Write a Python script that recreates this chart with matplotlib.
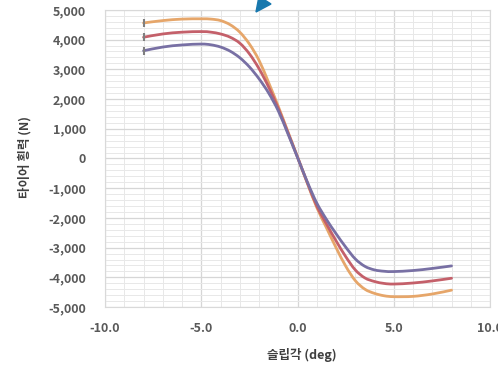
import matplotlib
matplotlib.use("Agg")
import matplotlib.pyplot as plt
from matplotlib.ticker import MultipleLocator, FuncFormatter
from matplotlib.patches import Polygon, PathPatch
from matplotlib.path import Path

plt.rcParams['font.family'] = ['Noto Sans CJK KR', 'DejaVu Sans']

slip = [-8, -7, -6, -5, -4.5, -4, -3.5, -3, -2.5, -2, -1.5, -1, -0.5, 0,
        0.5, 1, 1.5, 2, 2.5, 3, 3.5, 4, 4.5, 5, 6, 7, 8]
force_orange = [4560, 4640, 4690, 4700, 4690, 4640, 4500, 4250, 3850, 3300, 2550, 1750, 900, 50,
                -820, -1650, -2330, -3000, -3620, -4110, -4400, -4540, -4620, -4650, -4640, -4560, -4430]
force_red = [4080, 4190, 4250, 4270, 4250, 4190, 4080, 3880, 3520, 3020, 2400, 1680, 870, 40,
             -800, -1600, -2200, -2770, -3300, -3750, -4020, -4140, -4205, -4225, -4190, -4120, -4030]
force_purple = [3625, 3750, 3820, 3850, 3825, 3750, 3610, 3390, 3080, 2680, 2200, 1600, 830, 30,
                -780, -1500, -2050, -2530, -2980, -3380, -3630, -3750, -3795, -3805, -3770, -3700, -3615]

xlabel = "슬립각 (deg)"
ylabel = "타이어 횡력 (N)"


def smooth_path(xs, ys):
    """Excel-like smoothed line: Catmull-Rom segments rendered as cubic Bezier."""
    n = len(xs)
    verts = [(xs[0], ys[0])]
    codes = [Path.MOVETO]
    for i in range(n - 1):
        x0, y0 = (xs[i - 1], ys[i - 1]) if i > 0 else (xs[i], ys[i])
        x1, y1 = xs[i], ys[i]
        x2, y2 = xs[i + 1], ys[i + 1]
        x3, y3 = (xs[i + 2], ys[i + 2]) if i + 2 < n else (x2, y2)
        c1 = (x1 + (x2 - x0) / 6, y1 + (y2 - y0) / 6)
        c2 = (x2 - (x3 - x1) / 6, y2 - (y3 - y1) / 6)
        verts += [c1, c2, (x2, y2)]
        codes += [Path.CURVE4] * 3
    return Path(verts, codes)


fig = plt.figure(figsize=(4.98, 3.66), dpi=100)
ax = fig.add_axes([0.211, 0.161, 0.773, 0.812])

series = [(force_orange, '#e6a66a'), (force_red, '#c4606a'), (force_purple, '#7870a4')]
for vals, col in series:
    patch = PathPatch(smooth_path(slip, vals), fill=False, edgecolor=col, lw=2.0,
                      capstyle='round', joinstyle='round', zorder=3)
    ax.add_patch(patch)
    ax.plot(slip[:1], vals[:1], marker='|', ms=6, mew=1.5, color='#7f7f7f', zorder=4)

ax.set_xlim(-10, 10)
ax.set_ylim(-5000, 5000)
ax.xaxis.set_major_locator(MultipleLocator(5))
ax.xaxis.set_minor_locator(MultipleLocator(1))
ax.yaxis.set_major_locator(MultipleLocator(1000))
ax.yaxis.set_minor_locator(MultipleLocator(200))
ax.xaxis.set_major_formatter(FuncFormatter(lambda v, p: f"{v:.1f}"))
ax.yaxis.set_major_formatter(FuncFormatter(lambda v, p: f"{int(round(v)):,}"))

ax.grid(which='major', color='#d6d6d6', lw=0.9)
ax.grid(which='minor', color='#e8e8e8', lw=0.7)
ax.set_axisbelow(True)
for s in ax.spines.values():
    s.set_color('#d9d9d9')
    s.set_linewidth(0.8)
ax.tick_params(which='both', length=0)
ax.tick_params(axis='y', pad=14, labelsize=9, labelcolor='#595959')
ax.tick_params(axis='x', pad=11, labelsize=9, labelcolor='#595959')
for lab in ax.get_xticklabels() + ax.get_yticklabels():
    lab.set_fontweight('bold')

fig.text(0.606, 0.03, xlabel, ha='center', va='center', fontsize=9,
         fontweight='bold', color='#404040')
fig.text(0.05, 0.57, ylabel, ha='center', va='center', rotation=90, fontsize=9,
         fontweight='bold', color='#404040')

tri = Polygon([[256 / 498, 1 - 12 / 366], [259 / 498, 1.01], [271 / 498, 1 - 4 / 366]],
              closed=True, transform=fig.transFigure, color='#1878ae', zorder=10)
fig.patches.append(tri)

fig.savefig("out.png", dpi=100)
